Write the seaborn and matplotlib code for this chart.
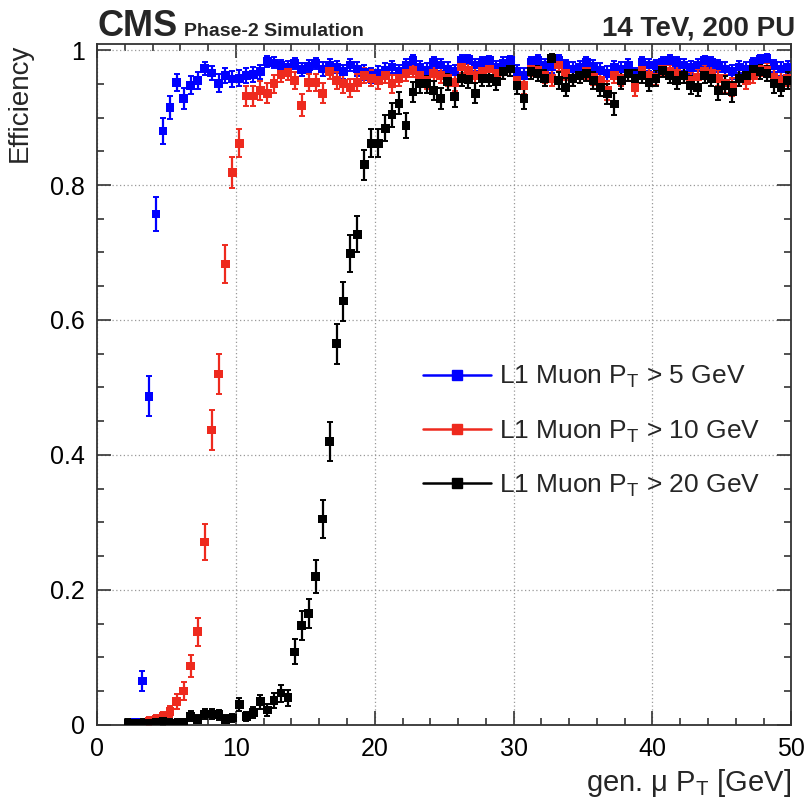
import matplotlib
matplotlib.use("Agg")
import matplotlib.pyplot as plt
from matplotlib.lines import Line2D
from matplotlib.ticker import MultipleLocator, FuncFormatter
import numpy as np
import pandas as pd
import seaborn as sns

# gen. muon pT bins (0.5 GeV wide, 2 - 50 GeV)
bin_centers = np.arange(2.25, 50.0, 0.5)

# efficiencies, one value per bin
eff_pt5 = [
    0.000, 0.003, 0.065, 0.487, 0.757, 0.880, 0.915, 0.952, 0.928, 0.948,
    0.955, 0.973, 0.966, 0.951, 0.962, 0.957, 0.958, 0.962, 0.964, 0.968,
    0.983, 0.981, 0.977, 0.974, 0.980, 0.971, 0.976, 0.980, 0.972, 0.978,
    0.975, 0.968, 0.978, 0.972, 0.967, 0.962, 0.965, 0.970, 0.975, 0.968,
    0.978, 0.985, 0.975, 0.970, 0.982, 0.978, 0.972, 0.968, 0.985, 0.986,
    0.978, 0.982, 0.984, 0.975, 0.981, 0.984, 0.968, 0.962, 0.982, 0.985,
    0.978, 0.975, 0.985, 0.977, 0.972, 0.975, 0.982, 0.976, 0.970, 0.965,
    0.975, 0.972, 0.978, 0.962, 0.982, 0.978, 0.977, 0.982, 0.985, 0.982,
    0.978, 0.974, 0.978, 0.984, 0.982, 0.977, 0.972, 0.968, 0.975, 0.972,
    0.980, 0.986, 0.987, 0.977, 0.972, 0.975,
]
eff_pt10 = [
    0.000, 0.000, 0.002, 0.005, 0.008, 0.012, 0.020, 0.035, 0.050, 0.087,
    0.138, 0.271, 0.437, 0.520, 0.683, 0.818, 0.862, 0.932, 0.932, 0.940,
    0.936, 0.950, 0.964, 0.967, 0.955, 0.918, 0.952, 0.952, 0.936, 0.968,
    0.955, 0.950, 0.944, 0.952, 0.962, 0.958, 0.955, 0.962, 0.950, 0.958,
    0.965, 0.970, 0.962, 0.955, 0.965, 0.962, 0.958, 0.952, 0.975, 0.970,
    0.962, 0.968, 0.972, 0.965, 0.968, 0.972, 0.955, 0.948, 0.972, 0.970,
    0.962, 0.958, 0.978, 0.966, 0.958, 0.962, 0.968, 0.960, 0.955, 0.940,
    0.962, 0.958, 0.965, 0.945, 0.970, 0.962, 0.960, 0.972, 0.968, 0.966,
    0.962, 0.955, 0.960, 0.968, 0.965, 0.958, 0.950, 0.945, 0.958, 0.955,
    0.962, 0.972, 0.970, 0.960, 0.955, 0.958,
]
eff_pt20 = [
    0.002, 0.002, 0.002, 0.002, 0.003, 0.005, 0.002, 0.002, 0.003, 0.013,
    0.008, 0.016, 0.016, 0.015, 0.008, 0.010, 0.030, 0.012, 0.018, 0.034,
    0.022, 0.036, 0.047, 0.040, 0.108, 0.147, 0.165, 0.220, 0.305, 0.420,
    0.565, 0.628, 0.698, 0.727, 0.830, 0.862, 0.862, 0.884, 0.904, 0.921,
    0.888, 0.938, 0.950, 0.950, 0.940, 0.928, 0.953, 0.931, 0.958, 0.956,
    0.936, 0.958, 0.958, 0.953, 0.968, 0.972, 0.948, 0.928, 0.968, 0.965,
    0.958, 0.987, 0.955, 0.945, 0.958, 0.962, 0.965, 0.955, 0.945, 0.935,
    0.920, 0.955, 0.965, 0.958, 0.962, 0.952, 0.958, 0.970, 0.962, 0.955,
    0.962, 0.948, 0.945, 0.962, 0.958, 0.940, 0.948, 0.938, 0.958, 0.962,
    0.972, 0.968, 0.965, 0.950, 0.945, 0.955,
]

series_labels = [
    r"L1 Muon P$_\mathrm{T}$ > 5 GeV",
    r"L1 Muon P$_\mathrm{T}$ > 10 GeV",
    r"L1 Muon P$_\mathrm{T}$ > 20 GeV",
]
series_colors = ["#0000ff", "#ee2a1e", "#000000"]

# approx. number of gen muons per bin, used for the binomial error bars
n_gen_per_bin = 280

frames = []
for lab, eff in zip(series_labels, [eff_pt5, eff_pt10, eff_pt20]):
    e = np.array(eff)
    err = np.sqrt(e * (1 - e) / n_gen_per_bin)
    frames.append(pd.DataFrame({"pt": bin_centers, "eff": e,
                                "err": np.maximum(err, 0.006), "trigger": lab}))
df = pd.concat(frames, ignore_index=True)

sns.set_style("ticks")
plt.rcParams["font.family"] = ["Liberation Sans", "DejaVu Sans"]
plt.rcParams["mathtext.fontset"] = "custom"
plt.rcParams["mathtext.rm"] = "Liberation Sans"

fig = plt.figure(figsize=(8.05, 8.0), dpi=100)
ax = fig.add_axes([0.1205, 0.094, 0.8625, 0.851])

for lab, col in zip(series_labels, series_colors):
    sub = df[df["trigger"] == lab]
    ax.errorbar(sub["pt"], sub["eff"], yerr=sub["err"], fmt="none",
                ecolor=col, elinewidth=1.6, capsize=2.2, capthick=1.4)
sns.scatterplot(data=df, x="pt", y="eff", hue="trigger",
                palette=dict(zip(series_labels, series_colors)),
                marker="s", s=40, linewidth=0, legend=False, ax=ax, zorder=3)

ax.set_xlim(0, 50)
ax.set_ylim(0, 1.009)
ax.xaxis.set_major_locator(MultipleLocator(10))
ax.xaxis.set_minor_locator(MultipleLocator(2))
ax.yaxis.set_major_locator(MultipleLocator(0.2))
ax.yaxis.set_minor_locator(MultipleLocator(0.05))
ax.yaxis.set_major_formatter(FuncFormatter(lambda v, p: f"{v:g}"))
ax.tick_params(which="both", direction="in", top=True, right=True,
               labelsize=18, width=1.2, colors="#333333", labelcolor="black")
ax.tick_params(which="major", length=10, pad=9)
ax.tick_params(which="minor", length=5)
ax.grid(True, which="major", linestyle=(0, (1, 2)), color="#999999", linewidth=0.9)
for sp in ax.spines.values():
    sp.set_linewidth(1.3)
    sp.set_color("#333333")

ax.set_xlabel("gen. μ P$_\\mathrm{T}$ [GeV]", fontsize=21, loc="right", labelpad=4)
ax.set_ylabel("Efficiency", fontsize=20, loc="top", labelpad=12)

handles = [Line2D([], [], color=c, marker="s", markersize=6.5, linewidth=1.8)
           for c in series_colors]
ax.legend(handles, series_labels, loc="upper left", bbox_to_anchor=(0.435, 0.565),
          frameon=False, fontsize=19, handlelength=2.6, labelspacing=1.05,
          handletextpad=0.3)

fig.text(0.1205, 0.955, "CMS", fontsize=26, fontweight="bold", ha="left", va="baseline")
fig.text(0.229, 0.955, "Phase-2 Simulation", fontsize=14, fontweight="bold",
         ha="left", va="baseline")
fig.text(0.988, 0.955, "14 TeV, 200 PU", fontsize=20, fontweight="bold",
         ha="right", va="baseline")

fig.savefig("out.png", dpi=100)
